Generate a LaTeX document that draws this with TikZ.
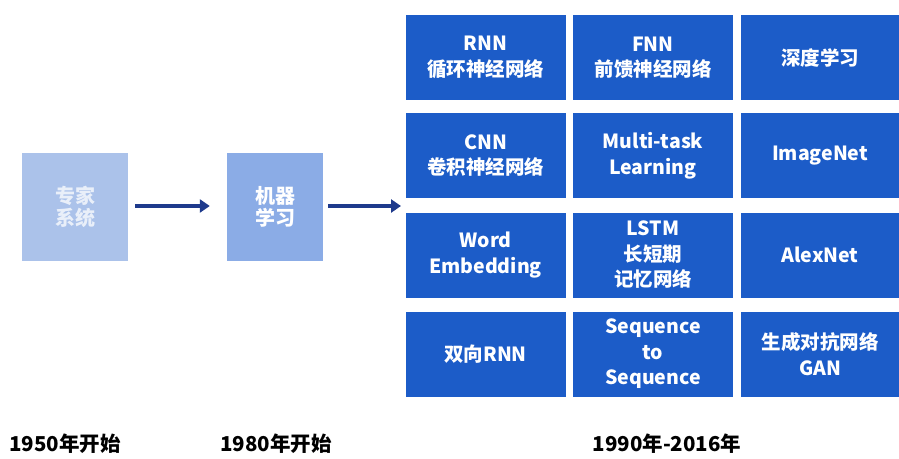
\documentclass[tikz,border=0pt]{standalone}
\usepackage{fontspec}
\setmainfont{Noto Sans CJK SC}
\usetikzlibrary{arrows.meta,calc}
\definecolor{boxblue}{HTML}{1C5CC8}
\definecolor{lightA}{HTML}{ABC2EA}
\definecolor{lightB}{HTML}{8BACE6}
\definecolor{navy}{HTML}{1E3A8C}
\tikzset{
  gridbox/.style={fill=boxblue, draw=none, minimum width=160pt, minimum height=85pt, text=white, font=\fontsize{19.5}{25.5}\selectfont\bfseries, align=center, inner sep=0pt},
  leftbox/.style={draw=none, minimum width=106pt, minimum height=108pt, text=white, font=\fontsize{20}{22}\selectfont\bfseries, align=center, inner sep=0pt},
  yearlabel/.style={font=\fontsize{20.5}{23}\selectfont\bfseries, text=black, inner sep=0pt},
  flow/.style={draw=navy, line width=3.5pt, -{Triangle[length=10pt,width=13pt]}}
}
\begin{document}
\begin{tikzpicture}[x=1pt,y=-1pt]
\useasboundingbox (0,0) rectangle (899,458);
\fill[white] (0,0) rectangle (899,458);
% left boxes
\node[leftbox, fill=lightA, text opacity=0.75] (expert) at (75,207) {专家\\系统};
\node[leftbox, fill=lightB, minimum width=96pt] (ml) at (275,207) {机器\\学习};
% grid
\node[gridbox] (b11) at (485.5,57.5) {RNN\\循环神经网络};
\node[gridbox] (b12) at (653,57.5) {FNN\\前馈神经网络};
\node[gridbox, minimum width=158pt] (b13) at (820,57.5) {深度学习};
\node[gridbox] (b21) at (485.5,155.5) {CNN\\卷积神经网络};
\node[gridbox] (b22) at (653,155.5) {Multi-task\\Learning};
\node[gridbox, minimum width=158pt] (b23) at (820,155.5) {ImageNet};
\node[gridbox] (b31) at (485.5,255) {Word\\Embedding};
\node[gridbox] (b32) at (653,255) {LSTM\\长短期\\记忆网络};
\node[gridbox, minimum width=158pt] (b33) at (820,255) {AlexNet};
\node[gridbox] (b41) at (485.5,354) {双向RNN};
\node[gridbox] (b42) at (653,354) {Sequence\\to\\Sequence};
\node[gridbox, minimum width=158pt] (b43) at (820,354) {生成对抗网络\\GAN};
% arrows
\coordinate (gridleft) at (401,206);
\draw[flow] ($(expert.east)+(7,-1)$) -- ($(ml.west)+(-17,-1)$);
\draw[flow] ($(ml.east)+(5,-1)$) -- (gridleft);
% year labels
\node[yearlabel, anchor=west] (y1) at (9,444) {1950年开始};
\node[yearlabel, anchor=west] (y2) at (220,444) {1980年开始};
\node[yearlabel] (y3) at (667,444) {1990年-2016年};
\end{tikzpicture}
\end{document}
